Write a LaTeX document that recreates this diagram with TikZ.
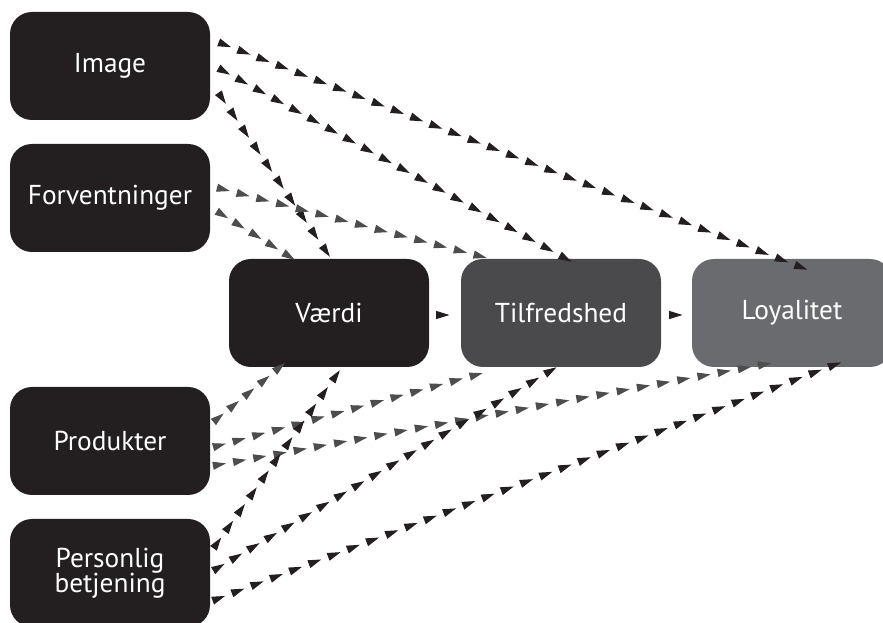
\documentclass[tikz,border=0pt]{standalone}
\usepackage{fontspec}
\setmainfont{PT Sans}
\usetikzlibrary{calc,decorations.markings,arrows.meta}

\definecolor{boxblack}{RGB}{35,31,32}
\definecolor{tilfgray}{RGB}{74,74,77}
\definecolor{loyalgray}{RGB}{106,107,110}
\definecolor{arrowgray}{RGB}{77,77,80}

\tikzset{every picture/.style={line width=0.75pt}}
\tikzset{
  block/.style={rounded corners=16.5pt, minimum width=150pt, minimum height=81pt, inner sep=0.75pt, text=white, align=center, font=\fontsize{20.5}{19}\selectfont},
  chain/.style={postaction={decorate}, decoration={markings, mark=between positions 1/#1-0.001 and 1 step 1/#1 with {\arrow{Triangle[length=10pt,width=6pt]}}}},
}

\begin{document}
\begin{tikzpicture}[x=0.75pt,y=0.75pt,yscale=-1,xscale=1]
\useasboundingbox (0,0) rectangle (883,623);

%Shape: Rounded Rect (left column)
\node [block, fill=boxblack] (img) at (110,66) {Image};
\node [block, fill=boxblack] (forv) at (110,198) {Forventninger};
\node [block, fill=boxblack] (prod) at (110,441) {Produkter};
\node [block, fill=boxblack] (pers) at (110,573) {Personlig\\betjening};
%Shape: Rounded Rect (middle row)
\node [block, fill=boxblack] (vaerdi) at (329,313) {Værdi};
\node [block, fill=tilfgray] (tilf) at (561,313) {Tilfredshed};
\node [block, fill=loyalgray] (loyal) at (792,313) {Loyalitet};

%Straight Lines (from Image)
\path [chain=31, color=boxblack] ($(img.east)+(2,-26)$) -- ($(loyal)+(16,-43)$);
\path [chain=20, color=boxblack] ($(img.east)+(2,-1)$) -- ($(tilf)+(11,-51)$);
\path [chain=10, color=boxblack] ($(img.east)+(4,21)$) -- ($(vaerdi)+(1,-56)$);
%Straight Lines (from Forventninger)
\path [chain=14, color=arrowgray] ($(forv.east)+(0,-12)$) -- ($(tilf)+(-74,-55)$);
\path [chain=5, color=arrowgray] ($(forv.east)+(1,10)$) -- ($(vaerdi)+(-34,-53)$);
%Straight Lines (from Produkter)
\path [chain=5, color=arrowgray] ($(prod.east)+(-2,-15)$) -- ($(vaerdi)+(-44,50)$);
\path [chain=14, color=arrowgray] ($(prod.east)+(-4,8)$) -- ($(tilf)+(-78,60)$);
\path [chain=28, color=arrowgray] ($(prod.east)+(-4,26)$) -- ($(loyal)+(-20,50)$);
%Straight Lines (from Personlig betjening)
\path [chain=11, color=boxblack] ($(pers.east)+(-1,-19)$) -- ($(vaerdi)+(11,57)$);
\path [chain=20, color=boxblack] ($(pers.east)+(-3,1)$) -- ($(tilf)+(-4,54)$);
\path [chain=33, color=boxblack] ($(pers.east)+(-4,30)$) -- ($(loyal)+(50,49)$);
%Straight Lines (middle row)
\path [chain=1, color=boxblack] ($(vaerdi.east)+(8,2)$) -- ($(tilf.west)+(-11,2)$);
\path [chain=1, color=boxblack] ($(tilf.east)+(8,2)$) -- ($(loyal.west)+(-9,2)$);

\end{tikzpicture}
\end{document}
